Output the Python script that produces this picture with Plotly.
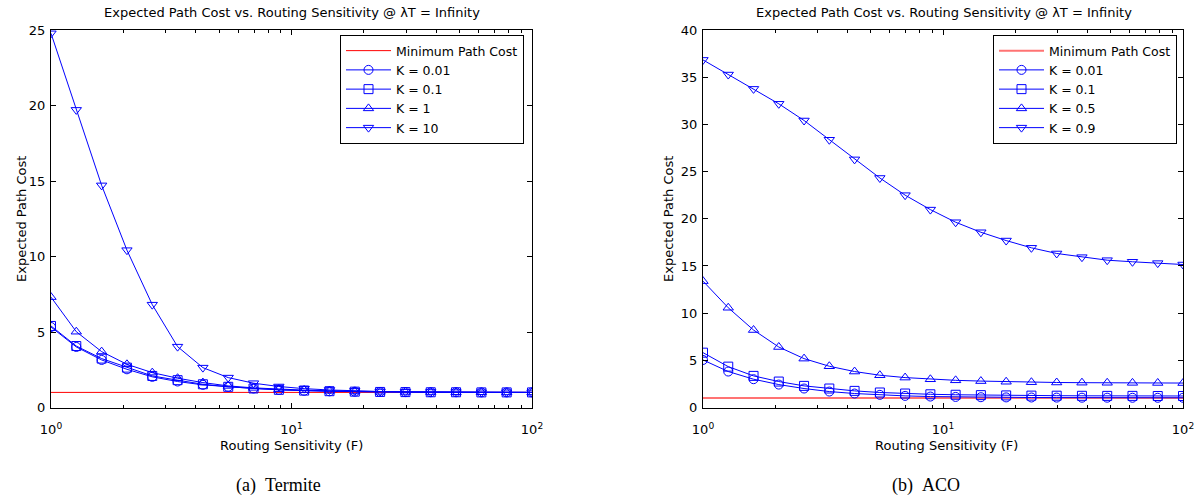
import plotly.graph_objects as go

# Routing sensitivity F: 20 log-spaced samples from 1 to 100
F = [1.0, 1.274, 1.624, 2.069, 2.637, 3.360, 4.281, 5.456, 6.952, 8.859,
     11.288, 14.384, 18.330, 23.357, 29.764, 37.927, 48.329, 61.585, 78.476, 100.0]

MIN_COST = 1.0

# (a) Termite
termite_k001 = [5.33, 4.01, 3.15, 2.53, 2.03, 1.72, 1.50, 1.37, 1.26, 1.17,
                1.11, 1.07, 1.05, 1.03, 1.02, 1.01, 1.01, 1.00, 1.00, 1.00]
termite_k01 = [5.40, 4.07, 3.24, 2.64, 2.09, 1.81, 1.54, 1.37, 1.26, 1.17,
               1.12, 1.08, 1.05, 1.03, 1.02, 1.01, 1.01, 1.00, 1.00, 1.00]
termite_k1 = [7.31, 5.02, 3.70, 2.86, 2.31, 1.94, 1.65, 1.43, 1.30, 1.21,
              1.15, 1.10, 1.06, 1.04, 1.03, 1.02, 1.01, 1.01, 1.00, 1.00]
termite_k10 = [24.78, 19.71, 14.71, 10.42, 6.81, 4.03, 2.64, 1.98, 1.61, 1.39,
               1.25, 1.16, 1.10, 1.06, 1.04, 1.03, 1.02, 1.01, 1.01, 1.00]
termite_labels = ["K = 0.01", "K = 0.1", "K = 1", "K = 10"]

# (b) ACO
aco_k001 = [5.04, 3.81, 3.00, 2.43, 2.01, 1.69, 1.48, 1.34, 1.23, 1.16,
            1.12, 1.09, 1.07, 1.06, 1.05, 1.04, 1.04, 1.03, 1.03, 1.03]
aco_k01 = [5.81, 4.33, 3.35, 2.75, 2.29, 2.01, 1.76, 1.59, 1.48, 1.40,
           1.35, 1.31, 1.28, 1.26, 1.25, 1.24, 1.23, 1.23, 1.22, 1.22]
aco_k05 = [13.39, 10.57, 8.21, 6.41, 5.18, 4.37, 3.81, 3.42, 3.17, 2.99,
           2.88, 2.80, 2.73, 2.68, 2.65, 2.63, 2.62, 2.61, 2.60, 2.59]
aco_k09 = [36.83, 35.28, 33.76, 32.18, 30.41, 28.37, 26.29, 24.32, 22.50, 20.97,
           19.63, 18.57, 17.69, 16.92, 16.32, 15.93, 15.61, 15.44, 15.30, 15.15]
aco_labels = ["K = 0.01", "K = 0.1", "K = 0.5", "K = 0.9"]

SYMBOLS = ["circle-open", "square-open", "triangle-up-open", "triangle-down-open"]
BLUE = "#0000ff"
FONT = "DejaVu Sans"
W, H = 1198, 499


def px_x(p):
    return p / W


def px_y(p):
    return 1 - p / H


fig = go.Figure()

panels = [
    dict(xa="x", ya="y", legend="legend", series=[termite_k001, termite_k01, termite_k1, termite_k10],
         labels=termite_labels, red=dict(color="#ff0000", width=1)),
    dict(xa="x2", ya="y2", legend="legend2", series=[aco_k001, aco_k01, aco_k05, aco_k09],
         labels=aco_labels, red=dict(color="#ff7373", width=2)),
]

for p in panels:
    fig.add_trace(go.Scatter(
        x=[F[0], F[-1]], y=[MIN_COST, MIN_COST], mode="lines",
        line=p["red"], name="Minimum Path Cost",
        xaxis=p["xa"], yaxis=p["ya"], legend=p["legend"],
    ))
    for vals, lab, sym in zip(p["series"], p["labels"], SYMBOLS):
        fig.add_trace(go.Scatter(
            x=F, y=vals, mode="lines+markers", name=lab,
            line=dict(color=BLUE, width=1),
            marker=dict(symbol=sym, size=9, color=BLUE, line=dict(color=BLUE, width=1)),
            xaxis=p["xa"], yaxis=p["ya"], legend=p["legend"],
        ))

minor_vals = [2, 3, 4, 5, 6, 7, 8, 9, 20, 30, 40, 50, 60, 70, 80, 90]
xaxis_common = dict(
    type="log", range=[0, 2], showgrid=False, zeroline=False, automargin=False,
    showline=True, linecolor="black", linewidth=1, mirror="allticks",
    ticks="inside", ticklen=5, tickcolor="black", ticklabelstandoff=10,
    tickvals=[1, 10, 100], ticktext=["10<sup>0</sup>", "10<sup>1</sup>", "10<sup>2</sup>"],
    tickfont=dict(family=FONT, size=13, color="black"),
    minor=dict(ticks="inside", ticklen=3, tickcolor="black", tickvals=minor_vals),
)
yaxis_common = dict(
    showgrid=False, zeroline=False, automargin=False,
    showline=True, linecolor="black", linewidth=1, mirror="allticks",
    ticks="inside", ticklen=5, tickcolor="black", dtick=5, ticklabelstandoff=2,
    tickfont=dict(family=FONT, size=13, color="black"),
)

legend_common = dict(
    xanchor="right", yanchor="top", bgcolor="white", bordercolor="black", borderwidth=1,
    font=dict(family=FONT, size=12.5, color="black"), tracegroupgap=0, itemwidth=45,
)

y_dom = [px_y(407.5), px_y(30)]
fig.update_layout(
    template="none",
    width=W, height=H, margin=dict(l=0, r=0, t=0, b=0, autoexpand=False),
    paper_bgcolor="white", plot_bgcolor="white",
    showlegend=True,
    xaxis=dict(xaxis_common, domain=[px_x(51), px_x(532)], anchor="y"),
    yaxis=dict(yaxis_common, domain=y_dom, range=[0, 25], anchor="x"),
    xaxis2=dict(xaxis_common, domain=[px_x(703), px_x(1183)], anchor="y2"),
    yaxis2=dict(yaxis_common, domain=y_dom, range=[0, 40], anchor="x2"),
    legend=dict(legend_common, x=px_x(524), y=px_y(35)),
    legend2=dict(legend_common, x=px_x(1177), y=px_y(35)),
)

title = "Expected Path Cost vs. Routing Sensitivity @ \u03bbT = Infinity"
texts = [
    # panel titles
    (title, 292, 12, 0, FONT, 13),
    (title, 944, 12, 0, FONT, 13),
    # axis titles
    ("Routing Sensitivity (F)", 291, 445, 0, FONT, 13),
    ("Routing Sensitivity (F)", 946, 445, 0, FONT, 13),
    ("Expected Path Cost", 21, 219, -90, FONT, 13),
    ("Expected Path Cost", 668, 219, -90, FONT, 13),
    # sub-figure captions
    ("(a)\u00a0\u00a0Termite", 278, 485, 0, "Liberation Serif", 18),
    ("(b)\u00a0\u00a0ACO", 926, 485, 0, "Liberation Serif", 18),
]
for txt, x, y, ang, fam, sz in texts:
    fig.add_annotation(
        text=txt, x=px_x(x), y=px_y(y), xref="paper", yref="paper",
        xanchor="center", yanchor="middle", showarrow=False, textangle=ang,
        font=dict(family=fam, size=sz, color="black"),
    )

fig.write_html("out.html")
